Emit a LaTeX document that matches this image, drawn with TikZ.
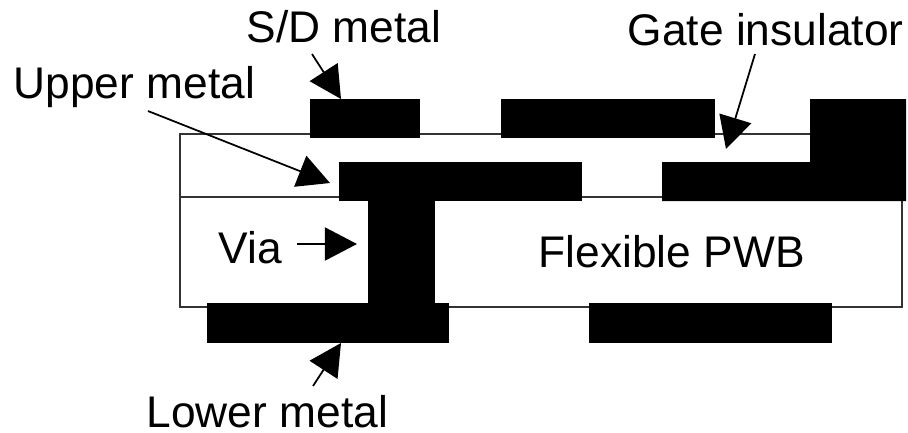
\documentclass[tikz,border=0pt]{standalone}
\usepackage{fontspec}
\setmainfont{Liberation Sans}
\usetikzlibrary{arrows.meta}
\tikzset{
  metal/.style={fill=black},
  board/.style={draw=black!80,line width=0.55pt},
  lbl/.style={anchor=base west,inner sep=0pt,font=\fontsize{12.6}{14}\selectfont},
  pointer/.style={draw=black,line width=0.5pt,->}
}
\begin{document}
\begin{tikzpicture}[x=0.01cm,y=-0.01cm,>={Triangle[length=0.32cm,width=0.33cm]}]
  \useasboundingbox (0,0) rectangle (908,432);
  % board outline
  \draw[board] (810,134) -- (180,134) -- (180,307) -- (902,307) -- (902,197);
  \draw[board] (180,197) -- (662,197);
  % metal layers
  \fill[metal] (310,99) rectangle (420,138);
  \fill[metal] (501,99) rectangle (715,138);
  \fill[metal] (339,162) rectangle (582,201);
  \fill[metal] (662,162) -- (810,162) -- (810,99) -- (906,99) -- (906,201) -- (662,201) -- cycle;
  \fill[metal] (368,201) rectangle (435,304);
  \fill[metal] (207,303) rectangle (449,343);
  \fill[metal] (589,303) rectangle (832,343);
  % labels
  \node[lbl] (sdlabel) at (246,42) {S/D metal};
  \node[lbl] (gatelabel) at (627,45) {Gate insulator};
  \node[lbl] (upperlabel) at (13,98) {Upper metal};
  \node[lbl] (vialabel) at (218,263) {Via};
  \node[lbl] (pwblabel) at (538,267) {Flexible PWB};
  \node[lbl] (lowerlabel) at (146,427) {Lower metal};
  % pointers
  \coordinate (sdtail) at (312,54);
  \coordinate (sdtip) at (341,99);
  \coordinate (gatetail) at (755,54);
  \coordinate (gatetip) at (726,149);
  \coordinate (uppertail) at (148,111);
  \coordinate (uppertip) at (330,183);
  \coordinate (viatail) at (297,244);
  \coordinate (viatip) at (357,244);
  \coordinate (lowertail) at (313,386);
  \coordinate (lowertip) at (341,343);
  \draw[pointer] (sdtail) -- (sdtip);
  \draw[pointer] (gatetail) -- (gatetip);
  \draw[pointer] (uppertail) -- (uppertip);
  \draw[pointer] (viatail) -- (viatip);
  \draw[pointer] (lowertail) -- (lowertip);
\end{tikzpicture}
\end{document}
